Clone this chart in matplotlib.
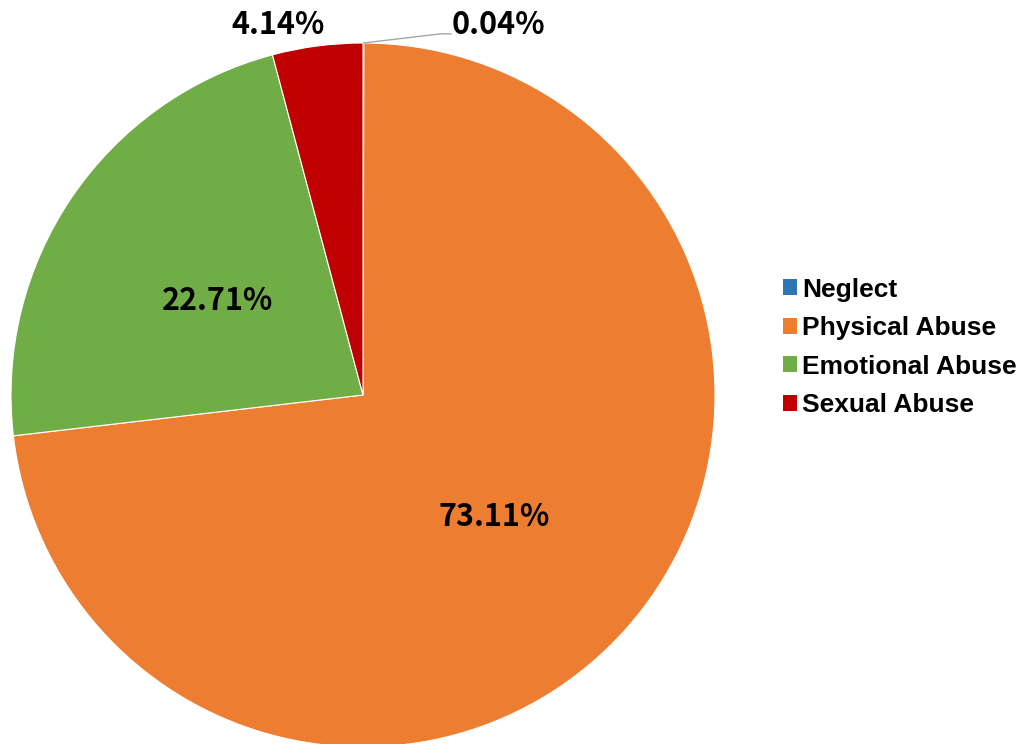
import matplotlib.pyplot as plt
import numpy as np
from matplotlib.patches import Patch

# Data
categories = ["Neglect", "Physical Abuse", "Emotional Abuse", "Sexual Abuse"]
values = [0.04, 73.11, 22.71, 4.14]
colors = ["#2E75B6", "#ED7D31", "#70AD47", "#C00000"]

fig = plt.figure(figsize=(10.2, 7.44), dpi=100)
# pie centered at about (363, 395) px with radius 352 px
ax = fig.add_axes([11 / 1020, -3 / 744, 704 / 1020, 704 / 744])

wedges, _ = ax.pie(
    values,
    colors=colors,
    startangle=90,
    counterclock=False,
    wedgeprops=dict(edgecolor="white", linewidth=0.8),
)
ax.set_xlim(-1, 1)
ax.set_ylim(-1, 1)
ax.set_aspect("equal")
ax.axis("off")

lab_font = dict(family=["Noto Sans CJK KR", "DejaVu Sans"], fontsize=22, fontweight="bold",
                color="black", ha="center", va="center")

for w, v in zip(wedges, values):
    mid = np.deg2rad((w.theta1 + w.theta2) / 2)
    txt = f"{v:.2f}%"
    if v > 10:
        ax.text(0.5 * np.cos(mid), 0.5 * np.sin(mid) - 0.015, txt, **lab_font)
    elif v > 1:
        ax.text(1.09 * np.cos(mid) - 0.1, 1.05, txt, **lab_font, clip_on=False)
    else:
        # tiny slice: leader line to label on the right
        x0, y0 = np.cos(mid), np.sin(mid)
        ax.plot([x0, 0.22, 0.25], [y0, 1.026, 1.026], color="#A6A6A6", lw=1,
                clip_on=False)
        ax.text(0.385, 1.05, txt, **lab_font, clip_on=False)

handles = [Patch(facecolor=c, edgecolor="none") for c in colors]
fig.legend(
    handles, categories,
    loc="center left", bbox_to_anchor=(0.744, 0.533),
    frameon=False,
    prop=dict(family="Liberation Sans", weight="bold", size=19),
    handlelength=0.55, handleheight=0.55, handletextpad=0.2,
    labelspacing=0.55,
)

fig.savefig("out.png", dpi=100)
